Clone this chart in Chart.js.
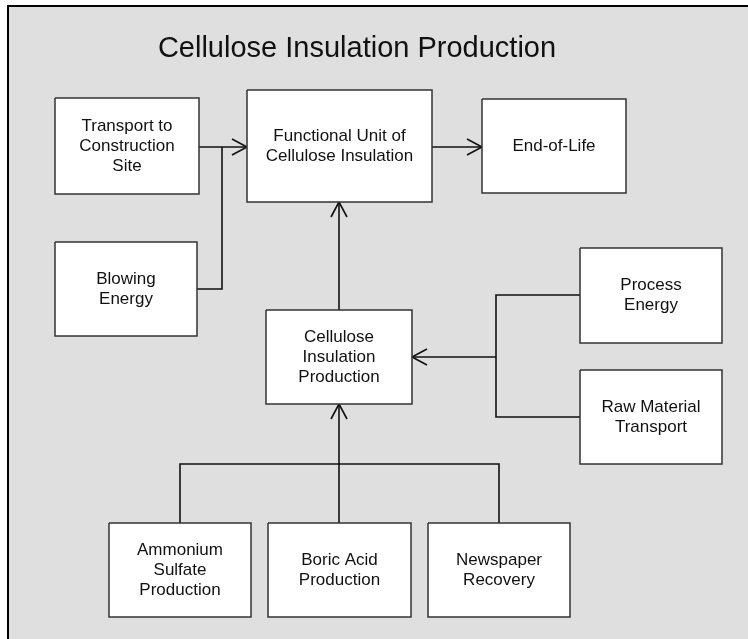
<!DOCTYPE html>
<html>
<head>
<meta charset="utf-8">
<script src="https://cdn.jsdelivr.net/npm/chart.js@4/dist/chart.umd.min.js"></script>
<style>
  html, body { margin: 0; padding: 0; background: #fff; }
  #flow { display: block; }
</style>
</head>
<body>
<canvas id="flow" width="748" height="639"></canvas>
<script>
// ── DIAGRAM DATA (diagram units = page pixels, y grows downward)
const title = "Cellulose Insulation Production";

const boxLabels = [
  ["Transport to", "Construction", "Site"],
  ["Functional Unit of", "Cellulose Insulation"],
  ["End-of-Life"],
  ["Blowing", "Energy"],
  ["Cellulose", "Insulation", "Production"],
  ["Process", "Energy"],
  ["Raw Material", "Transport"],
  ["Ammonium", "Sulfate", "Production"],
  ["Boric Acid", "Production"],
  ["Newspaper", "Recovery"]
];
const boxLeft   = [55, 247, 482, 55, 266, 580, 580, 109, 268, 428];
const boxTop    = [98, 90, 99, 242, 310, 248, 370, 523, 523, 523];
const boxRight  = [199, 432, 626, 197, 412, 722, 722, 251, 411, 570];
const boxBottom = [194, 202, 193, 336, 404, 343, 464, 617, 617, 617];

// connector polylines; last point is the arrow tip when hasArrow is true
const links = [
  [[199, 147], [247, 147]],
  [[197, 289], [222, 289], [222, 147]],
  [[432, 147], [482, 147]],
  [[339, 310], [339, 202]],
  [[580, 295], [496, 295], [496, 417], [580, 417]],
  [[496, 357], [412, 357]],
  [[180, 523], [180, 464], [499, 464], [499, 523]],
  [[339, 523], [339, 404]]
];
const hasArrow = [true, false, true, true, false, true, false, true];

// ── DATASETS
const HEAD_LEN = 15;
const HEAD_HALF = 8;
const pt = (p) => ({ x: p[0], y: p[1] });

const datasets = [];

links.forEach((line, i) => {
  datasets.push({
    data: line.map(pt),
    borderColor: "#111",
    borderWidth: 1.6,
    pointRadius: 0,
    tension: 0,
    fill: false,
    order: 2
  });
  if (hasArrow[i]) {
    const tip = line[line.length - 1];
    const prev = line[line.length - 2];
    const dx = Math.sign(tip[0] - prev[0]);
    const dy = Math.sign(tip[1] - prev[1]);
    const wing = (s) => ({
      x: tip[0] - dx * HEAD_LEN + dy * HEAD_HALF * s,
      y: tip[1] - dy * HEAD_LEN + dx * HEAD_HALF * s
    });
    datasets.push({
      data: [wing(1), pt(tip), wing(-1)],
      borderColor: "#111",
      borderWidth: 1.6,
      pointRadius: 0,
      tension: 0,
      fill: false,
      order: 2
    });
  }
});

boxLabels.forEach((_, i) => {
  datasets.push({
    data: [
      { x: boxLeft[i], y: boxTop[i] },
      { x: boxRight[i], y: boxTop[i] },
      { x: boxRight[i], y: boxBottom[i] },
      { x: boxLeft[i], y: boxBottom[i] },
      { x: boxLeft[i], y: boxTop[i] }
    ],
    borderColor: "#333",
    borderWidth: 1.5,
    backgroundColor: "#fff",
    pointRadius: 0,
    tension: 0,
    fill: "shape",
    order: 1
  });
});

// ── BACKGROUND FRAME + TEXT
const framePlugin = {
  id: "frame",
  beforeDraw(chart) {
    const { ctx, scales: { x, y } } = chart;
    const l = x.getPixelForValue(8), t = y.getPixelForValue(6);
    ctx.save();
    ctx.fillStyle = "#fff";
    ctx.fillRect(0, 0, chart.width, chart.height);
    ctx.fillStyle = "#dfdfdf";
    ctx.fillRect(l, t, chart.width, chart.height);
    ctx.strokeStyle = "#000";
    ctx.lineWidth = 2;
    ctx.beginPath();
    ctx.moveTo(l, chart.height + 5);
    ctx.lineTo(l, t);
    ctx.lineTo(chart.width + 5, t);
    ctx.stroke();
    ctx.restore();
  },
  afterDatasetsDraw(chart) {
    const { ctx, scales: { x, y } } = chart;
    ctx.save();
    ctx.fillStyle = "#111";
    ctx.textAlign = "center";
    ctx.textBaseline = "alphabetic";
    ctx.font = "29px 'Liberation Sans', Arial, sans-serif";
    ctx.fillText(title, x.getPixelForValue(357), y.getPixelForValue(57));

    ctx.font = "17px 'Liberation Sans', Arial, sans-serif";
    ctx.textBaseline = "middle";
    const lineH = 20;
    boxLabels.forEach((lines, i) => {
      const cx = x.getPixelForValue((boxLeft[i] + boxRight[i]) / 2);
      const cy = y.getPixelForValue((boxTop[i] + boxBottom[i]) / 2);
      lines.forEach((txt, k) => {
        ctx.fillText(txt, cx, cy + (k - (lines.length - 1) / 2) * lineH);
      });
    });
    ctx.restore();
  }
};

new Chart(document.getElementById("flow"), {
  type: "scatter",
  data: { datasets },
  options: {
    responsive: false,
    animation: false,
    showLine: true,
    layout: { padding: 0 },
    plugins: { legend: { display: false }, tooltip: { enabled: false } },
    scales: {
      x: { type: "linear", min: 0, max: 748, display: false },
      y: { type: "linear", min: 0, max: 639, reverse: true, display: false }
    }
  },
  plugins: [framePlugin]
});
</script>
</body>
</html>
